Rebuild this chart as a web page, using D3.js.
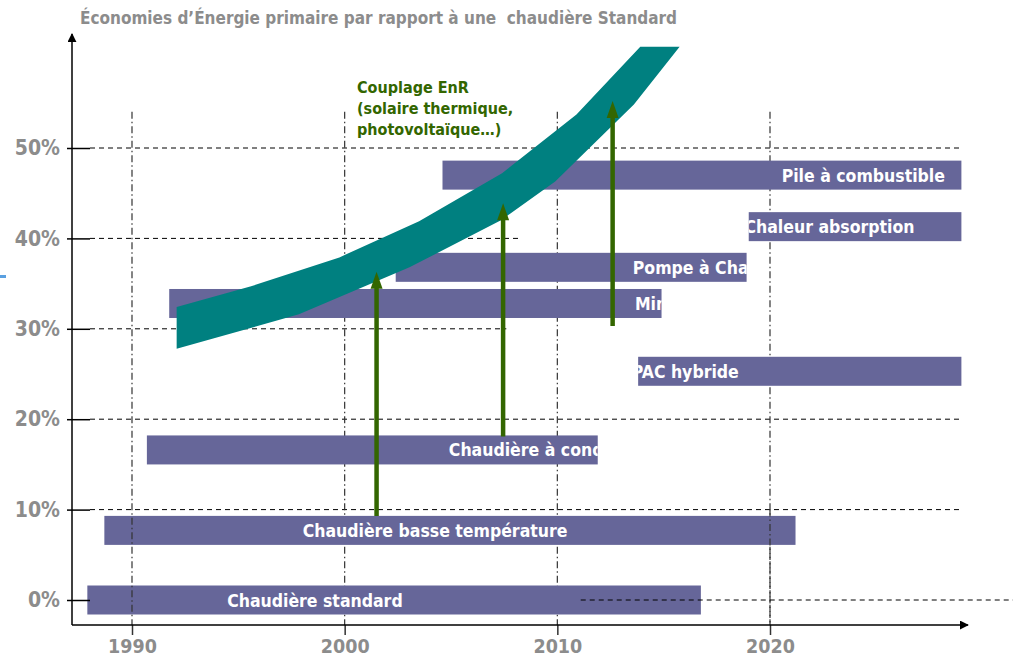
<!DOCTYPE html>
<html lang="fr">
<head>
<meta charset="utf-8">
<title>Économies d'énergie primaire</title>
<script src="https://d3js.org/d3.v7.min.js"></script>
<style>
  body { margin: 0; background: #fff; }
  text { font-family: "DejaVu Sans Condensed", "DejaVu Sans", sans-serif; font-weight: bold; }
</style>
</head>
<body>
<svg width="1013" height="665"></svg>
<script>
// ---- données ----
var titre = "Économies d’Énergie primaire par rapport à une  chaudière Standard";
var yTicks = [0, 10, 20, 30, 40, 50];
var xTicks = [1990, 2000, 2010, 2020];

var barLabels = ["Chaudière standard", "Chaudière basse température", "Chaudière à condensation",
                 "PAC hybride", "Mini-cogénération", "Pompe à Chaleur", "Chaleur absorption", "Pile à combustible"];
var barStart  = [1987.9, 1988.7, 1990.7, 2013.8, 1991.75, 2002.4, 2019.0, 2004.6];
var barEnd    = [2016.75, 2021.2, 2011.9, 2029.0, 2014.9, 2018.9, 2029.0, 2029.0];
var barLevel  = [0, 7.7, 16.6, 25.3, 32.8, 36.8, 41.3, 47.0];
var labelYear = [1998.6, 2004.25, 2004.9, 2013.5, 2013.65, 2013.55, 2018.8, 2020.55];
var labelAnchor = ["middle", "middle", "start", "start", "start", "start", "start", "start"];

// bande "couplage EnR"
var bandUpYears = [1992.1, 1995.6, 1999.75, 2003.5, 2007.4, 2010.9, 2013.9];
var bandUp      = [32.4, 34.7, 37.9, 41.9, 47.2, 53.7, 61.2];
var bandLoYears = [1992.1, 1997.85, 2003.05, 2007.35, 2009.9, 2013.6, 2015.75];
var bandLo      = [27.8, 31.6, 36.8, 42.0, 46.3, 54.8, 61.2];

// flèches vertes
var arrowYears = [2001.5, 2007.45, 2012.6];
var arrowFrom  = [9.3, 18.1, 30.3];
var arrowTo    = [36.3, 43.9, 55.2];

var couplage = ["Couplage EnR", "(solaire thermique,", "photovoltaïque…)"];

// fin des lignes horizontales pointillées (en années)
var gridEnd = [2031.5, 2029.0, 2029.0, 2007.6, 2008.3, 2029.0];

// ---- dessin ----
var svg = d3.select("svg");
var barColor = "#666699", bandColor = "#008080", green = "#336600", grey = "#8c8c8c";

var x = d3.scaleLinear().domain([1990, 2020]).range([132, 770]);
var y = d3.scaleLinear().domain([0, 50]).range([600, 148]);
var axisX = 72, axisY = 625;

svg.append("defs").append("marker")
    .attr("id", "tip").attr("viewBox", "0 0 10 10")
    .attr("refX", 9).attr("refY", 5)
    .attr("markerWidth", 9).attr("markerHeight", 9)
    .attr("markerUnits", "userSpaceOnUse")
    .attr("orient", "auto")
    .append("path").attr("d", "M0,0L10,5L0,10z").attr("fill", "#000");

// titre
svg.append("text").attr("x", 80).attr("y", 24)
    .style("white-space", "pre")
    .attr("font-size", 17).attr("fill", grey).text(titre);

// lignes horizontales (sous les barres)
var gridH = svg.append("g");
gridH.selectAll("line").data(yTicks.slice(1)).enter().append("line")
    .attr("x1", 90)
    .attr("x2", function(d, i) { return x(gridEnd[i + 1]); })
    .attr("y1", function(d) { return y(d); })
    .attr("y2", function(d) { return y(d); })
    .attr("stroke", "#000").attr("stroke-width", 1)
    .attr("stroke-dasharray", "5,4");

// lignes verticales 2000, 2010, 2020 (sous les barres)
function vLine(g, yr, top, bottom) {
    g.append("line")
        .attr("x1", x(yr)).attr("x2", x(yr))
        .attr("y1", top).attr("y2", bottom)
        .attr("stroke", "#333").attr("stroke-width", 1.2)
        .attr("stroke-dasharray", "7,3,1.5,3");
}
var gridV = svg.append("g");
[2000, 2010, 2020].forEach(function(yr) { vLine(gridV, yr, y(54), axisY); });

// barres
var defs = svg.select("defs");
barLabels.forEach(function(lab, i) {
    defs.append("clipPath").attr("id", "clip" + i)
        .append("rect")
        .attr("x", x(barStart[i])).attr("y", y(barLevel[i]) - 14.5)
        .attr("width", x(barEnd[i]) - x(barStart[i])).attr("height", 29);
});
var bars = svg.append("g");
bars.selectAll("rect").data(barLabels).enter().append("rect")
    .attr("x", function(d, i) { return x(barStart[i]); })
    .attr("y", function(d, i) { return y(barLevel[i]) - 14.5; })
    .attr("width", function(d, i) { return x(barEnd[i]) - x(barStart[i]); })
    .attr("height", 29)
    .attr("fill", barColor);

// lignes au-dessus des barres
var over = svg.append("g");
vLine(over, 1990, y(54), axisY);
vLine(over, 2020, y(10), axisY);
over.append("line")
    .attr("x1", x(2011.1)).attr("x2", x(gridEnd[0]))
    .attr("y1", y(0)).attr("y2", y(0))
    .attr("stroke", "#000").attr("stroke-dasharray", "5,4");

// textes des barres
bars.selectAll("text").data(barLabels).enter().append("text")
    .attr("clip-path", function(d, i) { return "url(#clip" + i + ")"; })
    .attr("x", function(d, i) { return x(labelYear[i]); })
    .attr("y", function(d, i) { return y(barLevel[i]) + 6.5; })
    .attr("text-anchor", function(d, i) { return labelAnchor[i]; })
    .attr("font-size", 17.5).attr("fill", "#fff")
    .text(function(d) { return d; });

// bande
var bandPts = bandUpYears.map(function(d, i) { return [x(d), y(bandUp[i])]; })
    .concat(bandLoYears.map(function(d, i) { return [x(d), y(bandLo[i])]; }).reverse());
svg.append("path")
    .attr("d", d3.line()(bandPts) + "Z")
    .attr("fill", bandColor);

// flèches
var arrows = svg.append("g");
arrowYears.forEach(function(yr, i) {
    var ax = x(yr), y0 = y(arrowFrom[i]), y1 = y(arrowTo[i]);
    arrows.append("line")
        .attr("x1", ax).attr("x2", ax).attr("y1", y0).attr("y2", y1 + 12)
        .attr("stroke", green).attr("stroke-width", 4.5);
    arrows.append("path")
        .attr("d", "M" + (ax - 6) + "," + (y1 + 17) + "L" + ax + "," + y1 + "L" + (ax + 6) + "," + (y1 + 17) + "Z")
        .attr("fill", green);
});

// texte couplage
svg.append("g").selectAll("text").data(couplage).enter().append("text")
    .attr("x", 357).attr("y", function(d, i) { return 93 + i * 21; })
    .attr("font-size", 16).attr("fill", green)
    .text(function(d) { return d; });

// axes
var xAxis = d3.axisBottom(x).tickValues(xTicks).tickSize(10).tickPadding(4).tickFormat(d3.format("d"));
var gx = svg.append("g").attr("transform", "translate(0," + axisY + ")").call(xAxis);
gx.select(".domain").remove();
gx.selectAll(".tick line").attr("stroke", "#333").attr("stroke-width", 1.5);
gx.selectAll(".tick text").attr("font-size", 19.5).attr("fill", grey)
    .attr("font-family", null);

var yAxis = d3.axisLeft(y).tickValues(yTicks).tickSize(-18).tickPadding(12).tickFormat(function(d) { return d + "%"; });
var gy = svg.append("g").attr("transform", "translate(" + axisX + ",0)").call(yAxis);
gy.select(".domain").remove();
gy.selectAll(".tick line").attr("x1", -5).attr("stroke", "#000").attr("stroke-width", 1.5);
gy.selectAll(".tick text").attr("font-size", 21).attr("fill", grey)
    .attr("font-family", null);

svg.append("line")
    .attr("x1", axisX).attr("x2", 968).attr("y1", axisY).attr("y2", axisY)
    .attr("stroke", "#000").attr("stroke-width", 1.5).attr("marker-end", "url(#tip)");
svg.append("line")
    .attr("x1", axisX).attr("x2", axisX).attr("y1", axisY).attr("y2", 34)
    .attr("stroke", "#000").attr("stroke-width", 1.5).attr("marker-end", "url(#tip)");

// petite marque bleue à gauche
svg.append("rect").attr("x", 0).attr("y", 275).attr("width", 6).attr("height", 3).attr("fill", "#5aa0e0");
</script>
</body>
</html>
